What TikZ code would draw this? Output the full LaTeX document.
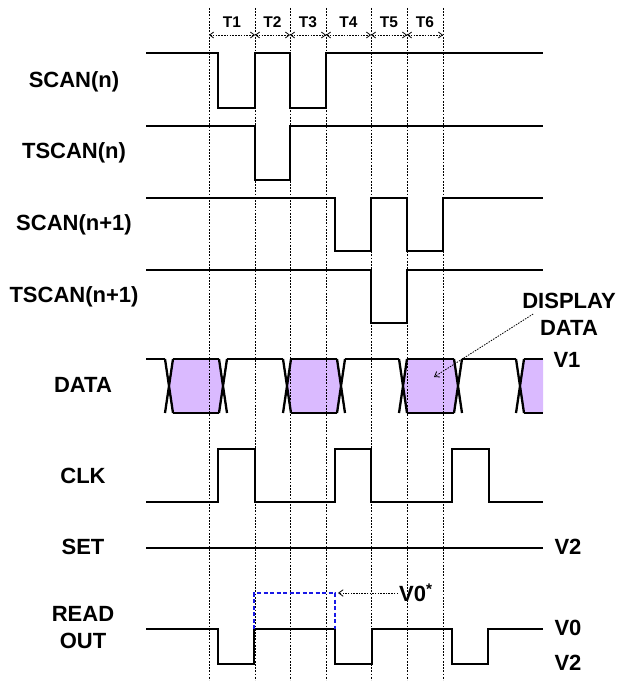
\documentclass[tikz,border=0pt]{standalone}
\usepackage{fontspec}
\setmainfont{Liberation Sans}
\usetikzlibrary{arrows.meta,calc}
\definecolor{datafill}{RGB}{218,186,255}
\definecolor{readblue}{RGB}{25,25,230}

\begin{document}
\begin{tikzpicture}[x=1pt,y=-1pt,
  sig/.style={line width=2.3pt,line join=miter},
  grid/.style={line width=0.8pt,dash pattern=on 1.8pt off 1.4pt},
  span/.style={line width=0.8pt,dash pattern=on 1.5pt off 1.3pt,
    {Straight Barb[length=4pt,width=6pt]}-{Straight Barb[length=4pt,width=6pt]}},
  ptr/.style={line width=0.8pt,dash pattern=on 1.5pt off 1.2pt,
    -{Straight Barb[length=4.5pt,width=6.5pt]}},
  lbl/.style={font=\fontsize{22}{27}\selectfont\bfseries,align=center,inner sep=1pt},
  tlbl/.style={font=\fontsize{15.5}{18}\selectfont\bfseries,inner sep=1pt}]
  \useasboundingbox (0,0) rectangle (619,682);

  % data boxes (filled first, grid goes over them)
  \foreach \a/\b in {169/223,287/341,403/458}
    \fill[datafill] (\a+4,359) -- (\b-4,359) -- (\b,386) -- (\b-4,413) -- (\a+4,413) -- (\a,386) -- cycle;
  \fill[datafill] (524,359) -- (543,359) -- (543,413) -- (524,413) -- (520,386) -- cycle;

  % time grid
  \foreach \x [count=\i] in {209,255,290,326,371,407,443} {
    \draw[grid] (\x,8) -- (\x,680);
    \coordinate (t\i) at (\x,35);
  }
  \foreach \a/\b/\txt in {1/2/T1,2/3/T2,3/4/T3,4/5/T4,5/6/T5,6/7/T6} {
    \draw[span] (t\a) -- (t\b);
    \node[tlbl] (tl\a) at ($(t\a)!0.5!(t\b)+(0,-13)$) {\txt};
  }

  % signal names
  \node[lbl] (scan) at (74,82) {SCAN(n)};
  \node[lbl] (tscan) at (74,153) {TSCAN(n)};
  \node[lbl] (scannext) at (74,225) {SCAN(n+1)};
  \node[lbl] (tscannext) at (74,297) {TSCAN(n+1)};
  \node[lbl] (data) at (83,385) {DATA};
  \node[lbl] (clk) at (83,476) {CLK};
  \node[lbl] (set) at (83,547) {SET};
  \node[lbl] (readout) at (83,628) {READ\\OUT};

  % levels
  \node[lbl] (display) at (569,314) {DISPLAY\\DATA};
  \node[lbl] (vone) at (567,360) {V1};
  \node[lbl] (vtwoset) at (568,547) {V2};
  \node[lbl] (vzero) at (568,628) {V0};
  \node[lbl] (vtwo) at (568,663) {V2};
  \node[lbl,anchor=west] (vstar) at (398,593) {V0\textsuperscript{*}};

  % waveforms
  \draw[sig] (146,53) -- (218,53) -- (218,108) -- (255,108) -- (255,53) -- (290,53)
    -- (290,108) -- (326,108) -- (326,53) -- (543,53);
  \draw[sig] (146,126) -- (255,126) -- (255,180) -- (290,180) -- (290,126) -- (543,126);
  \draw[sig] (146,198) -- (335,198) -- (335,251) -- (371,251) -- (371,198) -- (407,198)
    -- (407,251) -- (443,251) -- (443,198) -- (543,198);
  \draw[sig] (146,270) -- (371,270) -- (371,323) -- (407,323) -- (407,270) -- (543,270);

  \draw[sig] (146,359) -- (165,359) (227,359) -- (283,359) (345,359) -- (399,359) (462,359) -- (516,359);
  \foreach \a/\b in {169/223,287/341,403/458}
    \draw[sig] (\a+4,359) -- (\b-4,359) (\a+4,413) -- (\b-4,413);
  \draw[sig] (524,359) -- (543,359) (524,413) -- (543,413);
  \foreach \c in {169,223,287,341,403,458,520}
    \draw[sig] (\c-4,359) -- (\c+4,413) (\c+4,359) -- (\c-4,413);

  \draw[sig] (146,502) -- (218,502) -- (218,449) -- (255,449) -- (255,502) -- (335,502)
    -- (335,449) -- (371,449) -- (371,502) -- (452,502) -- (452,449) -- (489,449)
    -- (489,502) -- (543,502);
  \draw[sig] (146,548) -- (543,548);
  \draw[sig] (146,629) -- (218,629) -- (218,664) -- (254,664) -- (254,629) -- (335,629)
    -- (335,664) -- (372,664) -- (372,629) -- (452,629) -- (452,664) -- (488,664)
    -- (488,629) -- (543,629);
  \draw[line width=1.8pt,readblue,dash pattern=on 4pt off 2.5pt]
    (254,629) -- (254,593) -- (335,593) -- (335,629);

  % pointers
  \coordinate (ddtip) at (434,377);
  \coordinate (vstip) at (338,593);
  \draw[ptr] ([xshift=12pt]display.west) -- (ddtip);
  \draw[ptr] (vstar.west) -- (vstip);
\end{tikzpicture}
\end{document}
